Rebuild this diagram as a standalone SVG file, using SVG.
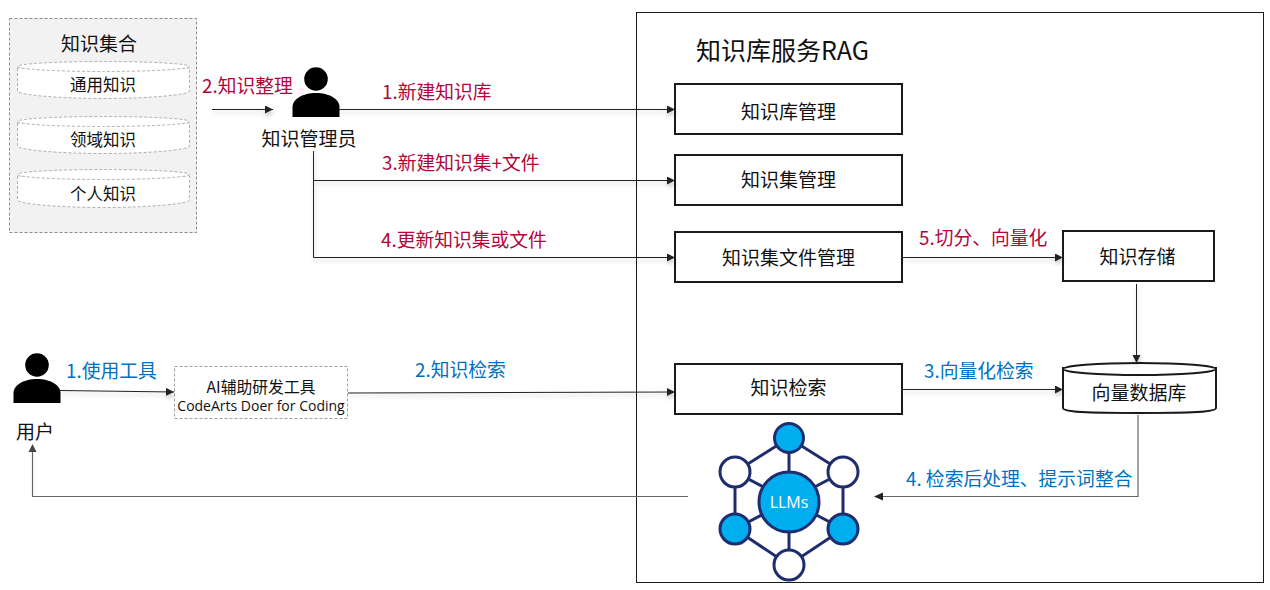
<svg xmlns="http://www.w3.org/2000/svg" width="1270" height="590" viewBox="0 0 1270 590">
<style>
text{font-family:"Noto Sans CJK SC","Liberation Sans",sans-serif;fill:#111;text-anchor:middle}
.n{font-size:19px}
.s{font-size:16.500px}
.r{font-size:18.800px;fill:#b0063a;text-anchor:start}
.b{font-size:18.800px;fill:#0070c0;text-anchor:start}
.box{fill:#fff;stroke:#1a1a1a;stroke-width:2}
.dash{fill:#fff;stroke:#b0b0b0;stroke-width:1;stroke-dasharray:3 2}
.c{fill:none;stroke:#222;stroke-width:1;marker-end:url(#a)}
.g{fill:none;stroke:#666;stroke-width:1.2}
.e{stroke:#1f2d6e;stroke-width:3}
.h{stroke:#1f2d6e;stroke-width:3;fill:#fff}
.f{stroke:#1f2d6e;stroke-width:3;fill:#00aeef}
</style>
<defs>
<marker id="a" markerUnits="userSpaceOnUse" markerWidth="9" markerHeight="9" refX="8" refY="4" orient="auto"><path d="M0 0L8 4L0 8Z" fill="#222"/></marker>
<filter id="sh" x="-5%" y="-20%" width="110%" height="140%"><feDropShadow dx="1" dy="3" stdDeviation="2" flood-color="#000" flood-opacity="0.22"/></filter>
<g id="person"><circle cx="0" cy="-38" r="11.800" fill="#000"/><path d="M-23.500 0V-10C-23.500 -18 -13 -24 0 -24S23.500 -18 23.500 -10V0Z" fill="#000"/></g>
</defs>

<rect x="636.500" y="12.500" width="627" height="570" fill="#fff" stroke="#1a1a1a" stroke-width="1"/>
<text x="782.500" y="60" style="font-size:25px">知识库服务RAG</text>

<g id="knowledge-set">
<rect x="9.500" y="18.500" width="187" height="214" fill="#f2f2f2" stroke="#8c8c8c" stroke-dasharray="3 2"/>
<text class="n" x="99" y="51">知识集合</text>
<path class="dash" d="M17.500 68V91C17.500 95 60 98.500 103.500 98.500S189.500 95 189.500 91V68Z"/><ellipse class="dash" cx="103.500" cy="66.500" rx="86" ry="5"/>
<text class="s" x="103" y="91">通用知识</text>
<path class="dash" d="M17.500 123V146C17.500 150 60 153.500 103.500 153.500S189.500 150 189.500 146V123Z"/><ellipse class="dash" cx="103.500" cy="121.500" rx="86" ry="5"/>
<text class="s" x="103" y="146">领域知识</text>
<path class="dash" d="M17.500 176V200C17.500 204 60 207.500 103.500 207.500S189.500 204 189.500 200V176Z"/><ellipse class="dash" cx="103.500" cy="174.500" rx="86" ry="5"/>
<text class="s" x="103" y="200">个人知识</text>
</g>

<g id="admin"><use href="#person" x="316" y="117"/><text class="n" x="309" y="146">知识管理员</text></g>
<g id="user"><use href="#person" x="37" y="403"/><text class="n" x="35" y="439">用户</text></g>

<g id="kb-mgmt"><rect class="box" x="675" y="84" width="227" height="50"/><text class="n" x="788.500" y="119">知识库管理</text></g>
<g id="set-mgmt"><rect class="box" x="675" y="155" width="227" height="50"/><text class="n" x="788.500" y="187">知识集管理</text></g>
<g id="file-mgmt"><rect class="box" x="675" y="232" width="227" height="50"/><text class="n" x="788.500" y="265">知识集文件管理</text></g>
<g id="storage"><rect class="box" x="1063" y="231" width="151" height="50"/><text class="n" x="1137.500" y="264">知识存储</text></g>
<g id="retrieval"><rect class="box" x="675" y="364" width="227" height="50"/><text class="n" x="788.500" y="395">知识检索</text></g>
<g id="vector-db">
<path class="box" d="M1063 368V408C1063 413 1100 413 1139 413S1216 413 1216 408V368Z" stroke-width="2"/><ellipse class="box" cx="1139.500" cy="369" rx="76.500" ry="6"/>
<text class="n" x="1139" y="400">向量数据库</text>
</g>
<g id="tool">
<rect x="174.500" y="366.500" width="173" height="52" fill="#fff" stroke="#a0a0a0" stroke-dasharray="3 2"/>
<text x="261" y="393" style="font-size:15.800px">AI辅助研发工具</text>
<text x="261" y="411" style="font-size:14px;font-family:'Open Sans','Noto Sans',sans-serif">CodeArts Doer for Coding</text>
</g>
<g id="llms">
<path class="e" d="M789 438L735 472V529L789 565L843 529V472ZM789 438V565M735 472L843 529M843 472L735 529" fill="none"/>
<circle class="f" cx="789" cy="438" r="14.500"/><circle class="h" cx="735" cy="472" r="15"/><circle class="h" cx="843" cy="472" r="15"/>
<circle class="f" cx="735" cy="529" r="15"/><circle class="f" cx="843" cy="529" r="15"/><circle class="h" cx="789" cy="565" r="15"/>
<circle class="f" cx="789" cy="502" r="30"/>
<text x="789" y="508" style="font-size:16px;fill:#fff;font-family:'Open Sans','Noto Sans',sans-serif">LLMs</text>
</g>

<g id="connectors" filter="url(#sh)">
<path class="c" d="M212 109.500H273"/>
<path class="c" d="M339 109.500H675"/>
<path class="c" d="M313.500 151V257.500H675"/>
<path class="c" d="M313.500 180.500H675"/>
<path class="c" d="M903 257.500H1063"/>
<path class="c" d="M1136.500 284V363"/>
<path class="c" d="M60 390.500L174 392"/>
<path class="c" d="M348 393L675 392"/>
<path class="c" d="M903 389.500H1063"/>
</g>
<g id="return-connectors">
<path class="g" d="M1138 415V496.500H876"/><path d="M874 496.500L883 492.500V500.500Z" fill="#222"/>
<path class="g" d="M688 496.500H32.500V447"/><path d="M32.500 444L28.500 452H36.500Z" fill="#444"/>
</g>

<text class="r" x="202" y="93">2.知识整理</text>
<text class="r" x="382" y="99">1.新建知识库</text>
<text class="r" x="382" y="170">3.新建知识集+文件</text>
<text class="r" x="381" y="247">4.更新知识集或文件</text>
<text class="r" x="919" y="245">5.切分、向量化</text>
<text class="b" x="66" y="378">1.使用工具</text>
<text class="b" x="415" y="377">2.知识检索</text>
<text class="b" x="924" y="378">3.向量化检索</text>
<text class="b" x="906" y="486">4. 检索后处理、提示词整合</text>
</svg>
